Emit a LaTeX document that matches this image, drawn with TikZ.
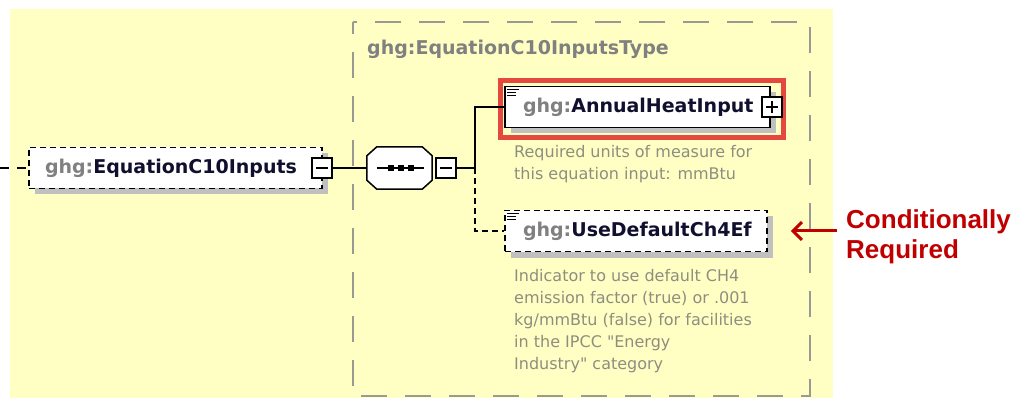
\documentclass[tikz,border=0pt]{standalone}
\usepackage{fontspec}
\setmainfont{DejaVu Sans}
\newfontfamily\descfont{DejaVu Sans}
\newfontfamily\arialfont{Liberation Sans}
\usepackage{tikz}
\usetikzlibrary{arrows.meta,positioning,shadows}
\definecolor{XSDYellow}{HTML}{FFFFC4}
\definecolor{XSDShadow}{HTML}{C0C0C0}
\definecolor{XSDGray}{HTML}{808080}
\definecolor{XSDFrame}{HTML}{9A9A94}
\definecolor{XSDDesc}{HTML}{8E8E80}
\definecolor{XSDName}{HTML}{10102E}
\definecolor{MarkRed}{HTML}{E5483F}
\definecolor{NoteRed}{HTML}{C00000}
\tikzset{
  elembox/.style={draw=black, line width=1.6pt, fill=white, align=left, inner xsep=18pt, inner ysep=0pt, minimum height=41pt, font=\fontsize{19}{22}\selectfont\bfseries, text=XSDName, drop shadow={shadow xshift=6pt, shadow yshift=-6pt, fill=XSDShadow, opacity=1}},
  optbox/.style={elembox, dash pattern=on 6pt off 4pt},
  seqbox/.style={minimum width=65pt, minimum height=42pt, inner sep=0pt},
  seqline/.style={draw=black, line width=1.5pt, fill=white},
  togglebox/.style={draw=black, line width=1.2pt, fill=white, minimum size=20pt, inner sep=0pt},
  minusbox/.style={togglebox, path picture={\draw[line width=1.2pt] ([xshift=4pt]path picture bounding box.west) -- ([xshift=-4pt]path picture bounding box.east);}},
  plusbox/.style={togglebox, path picture={\draw[line width=1.2pt] ([xshift=4pt]path picture bounding box.west) -- ([xshift=-4pt]path picture bounding box.east); \draw[line width=1.2pt] ([yshift=-4pt]path picture bounding box.north) -- ([yshift=4pt]path picture bounding box.south);}},
  link/.style={draw=black, line width=1.5pt},
  optlink/.style={link, dash pattern=on 6pt off 4pt},
  leadlink/.style={link, dash pattern=on 9pt off 8pt},
  typeframe/.style={draw=XSDFrame, line width=2pt, dash pattern=on 26pt off 18pt, dash phase=14pt},
  markframe/.style={draw=MarkRed, line width=5pt},
  desc/.style={anchor=north west, inner sep=0pt, align=left, font=\descfont\fontsize{16}{22}\selectfont, text=XSDDesc},
  typelabel/.style={anchor=base west, inner sep=0pt, font=\fontsize{19}{22}\selectfont\bfseries, text=XSDGray},
  note/.style={anchor=north west, inner sep=0pt, align=left, font=\arialfont\bfseries\fontsize{26}{30}\selectfont, text=NoteRed},
  notearrow/.style={-{Straight Barb[length=9pt,width=18pt,line width=3pt]}, line width=3pt, draw=NoteRed}
}
\newcommand\ns{{\color{XSDGray}ghg:}}
\newcommand\docicon[1]{\foreach \k/\w in {0/12,3/9,6/9} \draw[line width=1.2pt] ([shift={(3,4+\k)}]#1.north west) -- ++(\w,0);}
\newcommand\octpath[1]{([xshift=10pt]#1.north west) -- ([xshift=-10pt]#1.north east) -- ([yshift=-9pt]#1.north east) -- ([yshift=9pt]#1.south east) -- ([xshift=-10pt]#1.south east) -- ([xshift=10pt]#1.south west) -- ([yshift=9pt]#1.south west) -- ([yshift=-9pt]#1.north west) -- cycle}

\begin{document}
\begin{tikzpicture}[x=1pt,y=-1pt]
\useasboundingbox (0,0) rectangle (1020,398);
\fill[XSDYellow] (10,9) rectangle (833,398);
\draw[typeframe] (353,22) rectangle (810,396);
\node[typelabel] (typelbl) at (367,55) {ghg:EquationC10InputsType};

% root element and sequence
\node[optbox, inner xsep=16pt, text width=261pt] (root) at (175.5,168) {\ns EquationC10Inputs};
\node[minusbox] (rootmin) at (322,168) {};
\coordinate (start) at (0,168);
\node[seqbox] (seq) at (399.5,168) {};
\fill[XSDShadow, shift={(7,7)}] \octpath{seq};
\draw[seqline] \octpath{seq};
\draw[line width=1.5pt] ([xshift=10pt]seq.west) -- ([xshift=-8pt]seq.east);
\foreach \dx in {-9,1,11} \fill ([xshift=\dx pt]seq.center) +(-3,-3) rectangle +(3,3);
\node[minusbox] (seqmin) at (446,168) {};
\coordinate (br) at (475,168);

% child elements
\node[elembox, text width=229pt] (ahi) at (637.5,107) {\ns AnnualHeatInput};
\docicon{ahi}
\draw[markframe] (500,80.5) rectangle (783.5,138);
\node[plusbox] (ahiplus) at (772,107) {};
\node[desc] (ahidesc) at (514,145) {Required units of measure for\\this equation input: mmBtu};

\node[optbox, text width=226pt] (udc) at (636,231) {\ns UseDefaultCh4Ef};
\docicon{udc}
\node[desc] (udcdesc) at (514,269) {Indicator to use default CH4\\emission factor (true) or .001\\kg/mmBtu (false) for facilities\\in the IPCC "Energy\\Industry" category};

\draw[leadlink] (start) -- (root.west);
\draw[link] (rootmin.east) -- (seq.west);
\draw[link] (seqmin.east) -- (br) |- (ahi.west);
\draw[optlink] (br) |- (udc.west);

% note
\node[note] (cond) at (846,209) {Conditionally\\Required};
\draw[notearrow] ([xshift=-9pt]cond.west |- udc.east) -- ([xshift=23pt]udc.east);
\end{tikzpicture}
\end{document}
